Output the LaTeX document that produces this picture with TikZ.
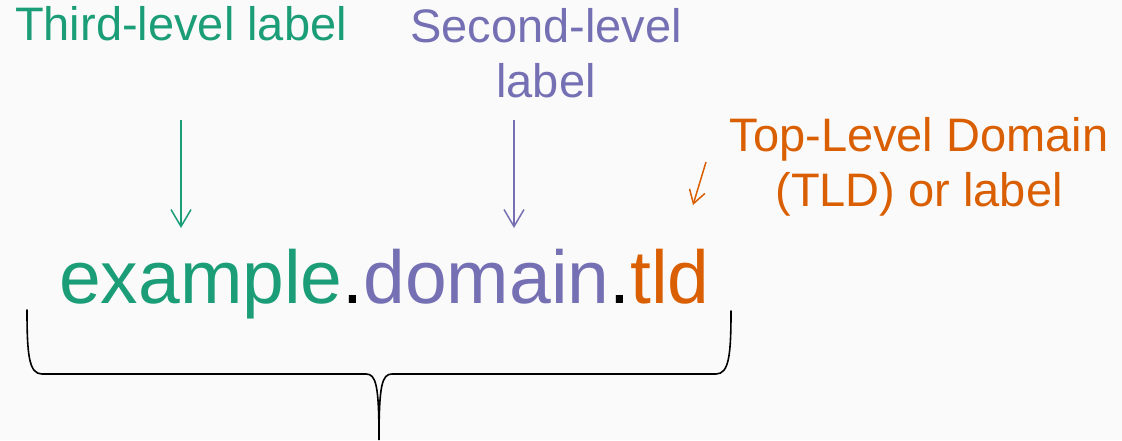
\documentclass[tikz,border=0pt]{standalone}
\usepackage{fontspec}
\setmainfont{Liberation Sans}
\usetikzlibrary{arrows.meta}
\definecolor{cgreen}{HTML}{1B9E77}
\definecolor{cpurple}{HTML}{7570B3}
\definecolor{corange}{HTML}{D95F02}
\definecolor{bgc}{HTML}{FAFAFA}
\tikzset{
  lbl/.style={inner sep=0pt, align=center, anchor=base, font=\fontsize{47}{55}\selectfont},
  pointer/.style={line width=1.5pt, -{Straight Barb[length=17pt,width=20pt,line width=1.5pt]}},
  brace/.style={line width=1.6pt, black, line cap=round},
}
\begin{document}
\begin{tikzpicture}[x=1pt,y=-1pt]
\fill[bgc] (0,0) rectangle (1122,440);
\useasboundingbox (0,0) rectangle (1122,440);

\node[lbl, text=cgreen] (third) at (181,40) {Third-level label};
\node[lbl, text=cpurple] (second) at (546,97) {Second-level\\label};
\node[lbl, text=corange] (tld) at (919,206) {Top-Level Domain\\(TLD) or label};

\node[inner sep=0pt, anchor=base west, font=\fontsize{75}{90}\selectfont] (name) at (59,303)
  {\textcolor{cgreen}{example}.\textcolor{cpurple}{domain}.\textcolor{corange}{tld}};

\coordinate (g1) at (181,120); \coordinate (g2) at (181,228);
\coordinate (p1) at (514,120); \coordinate (p2) at (514,228);
\coordinate (o1) at (706,162); \coordinate (o2) at (693,205);

\draw[pointer, cgreen] (g1) -- (g2);
\draw[pointer, cpurple] (p1) -- (p2);
\draw[line width=1.5pt, corange, -{Straight Barb[length=13pt,width=16pt,line width=1.5pt]}] (o1) -- (o2);

\draw[brace] (27,310) .. controls (27,355) and (29,374) .. (42,374) -- (366,374)
  .. controls (376,374) and (379,385) .. (379,440)
  .. controls (379,385) and (382,374) .. (392,374) -- (716,374)
  .. controls (729,374) and (731,355) .. (731,311);
\end{tikzpicture}
\end{document}
